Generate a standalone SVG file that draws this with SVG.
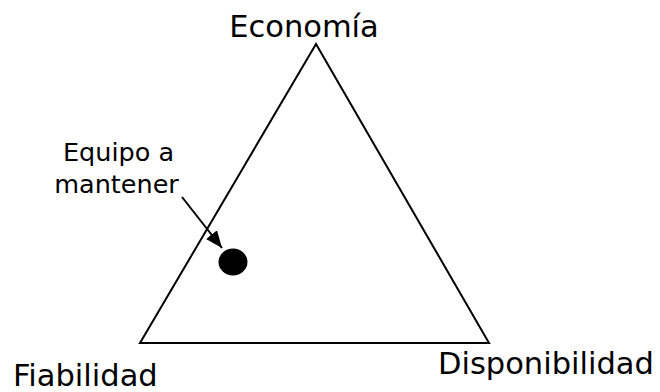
<svg xmlns="http://www.w3.org/2000/svg" width="660" height="392" viewBox="0 0 660 392">
<style>
text{font-family:"DejaVu Sans",Verdana,sans-serif;fill:#000}
.big{font-size:30.5px}
.small{font-size:25.5px}
</style>
<defs>
<marker id="ah" markerWidth="18" markerHeight="16" refX="17" refY="7" orient="auto" markerUnits="userSpaceOnUse">
<path d="M0,0 L17,7 L0,14 Z" fill="#000"/>
</marker>
</defs>
<rect width="660" height="392" fill="#fff"/>
<g id="triangle">
<polygon points="316,44 140,343 489,343" fill="none" stroke="#000" stroke-width="2"/>
</g>
<g id="economia"><text class="big" x="304" y="37" text-anchor="middle">Economía</text></g>
<g id="fiabilidad"><text class="big" x="13" y="386">Fiabilidad</text></g>
<g id="disponibilidad"><text class="big" x="438" y="374">Disponibilidad</text></g>
<g id="equipo">
<text class="small" x="118.5" y="161" text-anchor="middle">Equipo a</text>
<text class="small" x="116.5" y="193" text-anchor="middle">mantener</text>
<ellipse cx="233" cy="262" rx="14.5" ry="13.5" fill="#000"/>
</g>
<g id="connectors">
<line x1="182" y1="197" x2="222" y2="248" stroke="#000" stroke-width="2" marker-end="url(#ah)"/>
</g>
</svg>
